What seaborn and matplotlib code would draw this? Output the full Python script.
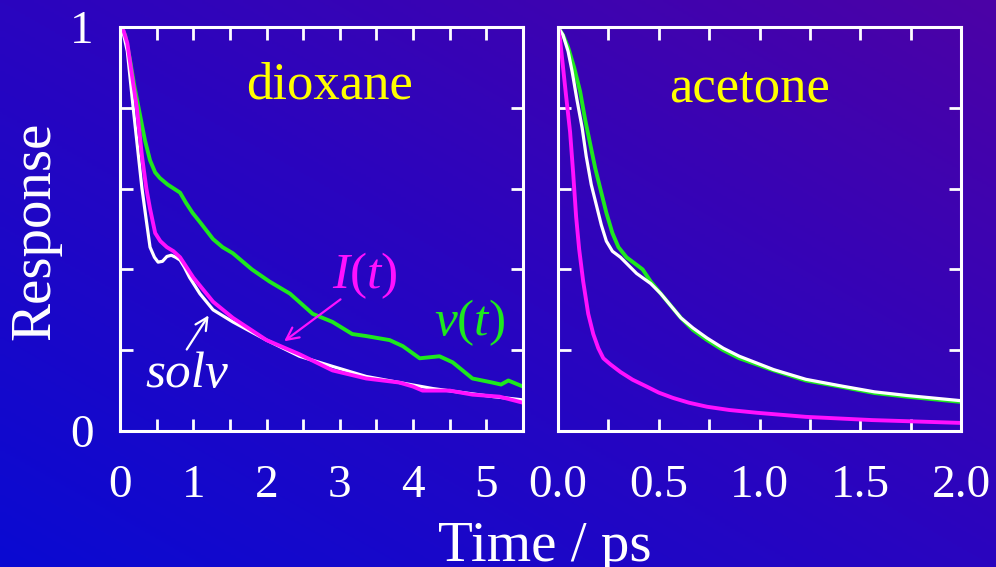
"""
Solvation response in dioxane and acetone: solvation correlation function,
intensity I(t) and frequency v(t) responses, two panels on a blue backdrop.
"""

import numpy as np
import matplotlib.pyplot as plt
import seaborn as sns
from matplotlib.colors import LinearSegmentedColormap

sns.set_style("ticks")
plt.rcParams['font.family'] = ['Liberation Serif', 'DejaVu Serif']
plt.rcParams['mathtext.fontset'] = 'custom'
plt.rcParams['mathtext.rm'] = 'Liberation Serif'
plt.rcParams['mathtext.it'] = 'Liberation Serif:italic'

# ============================================================================
# DATA
# ============================================================================

# dioxane, v(t)
diox_v_t = [0.0, 0.07, 0.14, 0.2, 0.27, 0.34, 0.41, 0.48, 0.545, 0.65, 0.82, 0.9,
            0.99, 1.1, 1.27, 1.4, 1.54, 1.8, 2.04, 2.32, 2.63, 2.9, 3.17, 3.36,
            3.68, 3.86, 4.09, 4.36, 4.54, 4.81, 5.08, 5.2, 5.3, 5.5]
diox_v = [1.0, 0.98, 0.915, 0.85, 0.785, 0.72, 0.67, 0.64, 0.626, 0.61, 0.59, 0.565,
          0.54, 0.515, 0.475, 0.455, 0.44, 0.40, 0.37, 0.34, 0.29, 0.27, 0.24, 0.235,
          0.225, 0.21, 0.18, 0.185, 0.17, 0.13, 0.12, 0.115, 0.125, 0.11]

# dioxane, solvation function
diox_s_t = [0.0, 0.05, 0.1, 0.18, 0.24, 0.3, 0.36, 0.41, 0.47, 0.52, 0.58, 0.64,
            0.7, 0.76, 0.82, 0.88, 0.95, 1.02, 1.09, 1.18, 1.27, 1.54, 2.0, 2.45,
            2.9, 3.36, 3.81, 4.27, 4.72, 5.1, 5.5]
diox_s = [1.0, 0.98, 0.94, 0.80, 0.70, 0.60, 0.52, 0.455, 0.43, 0.418, 0.42, 0.432,
          0.435, 0.43, 0.423, 0.405, 0.38, 0.36, 0.34, 0.32, 0.30, 0.27, 0.225, 0.185,
          0.16, 0.135, 0.12, 0.105, 0.094, 0.085, 0.077]

# dioxane, I(t)
diox_i_t = [0.0, 0.05, 0.1, 0.18, 0.23, 0.3, 0.36, 0.41, 0.48, 0.55, 0.64, 0.73,
            0.82, 0.91, 1.0, 1.09, 1.18, 1.27, 1.54, 2.0, 2.45, 2.9, 3.36, 3.81,
            4.0, 4.13, 4.5, 4.81, 5.18, 5.5]
diox_i = [1.0, 0.99, 0.96, 0.86, 0.80, 0.68, 0.60, 0.55, 0.49, 0.47, 0.455, 0.445,
          0.43, 0.405, 0.38, 0.36, 0.34, 0.32, 0.28, 0.225, 0.19, 0.15, 0.13, 0.12,
          0.11, 0.10, 0.10, 0.09, 0.085, 0.07]

# acetone, v(t)
acet_v_t = [0.0, 0.025, 0.05, 0.08, 0.11, 0.135, 0.16, 0.185, 0.21, 0.24, 0.27,
            0.3, 0.34, 0.38, 0.42, 0.46, 0.51, 0.56, 0.61, 0.67, 0.74, 0.82, 0.9,
            1.07, 1.23, 1.4, 1.57, 1.73, 2.0]
acet_v = [1.0, 0.98, 0.95, 0.90, 0.84, 0.77, 0.71, 0.65, 0.60, 0.54, 0.49,
          0.455, 0.43, 0.415, 0.40, 0.37, 0.34, 0.31, 0.28, 0.25, 0.225, 0.20, 0.18,
          0.15, 0.125, 0.11, 0.094, 0.085, 0.072]

# acetone, solvation function
acet_s_t = [0.0, 0.025, 0.05, 0.07, 0.094, 0.12, 0.14, 0.165, 0.19, 0.215, 0.24,
            0.27, 0.31, 0.35, 0.39, 0.46, 0.51, 0.56, 0.61, 0.67, 0.74, 0.82, 0.9,
            1.07, 1.23, 1.4, 1.57, 1.73, 2.0]
acet_s = [1.0, 0.98, 0.94, 0.89, 0.82, 0.75, 0.68, 0.61, 0.56, 0.51, 0.47,
          0.445, 0.43, 0.41, 0.39, 0.365, 0.34, 0.31, 0.28, 0.255, 0.23, 0.205, 0.185,
          0.152, 0.128, 0.112, 0.097, 0.088, 0.075]

# acetone, I(t)
acet_i_t = [0.0, 0.01, 0.025, 0.04, 0.06, 0.075, 0.09, 0.105, 0.125, 0.15, 0.175,
            0.2, 0.225, 0.26, 0.31, 0.37, 0.44, 0.5, 0.57, 0.65, 0.74, 0.85, 0.99,
            1.23, 1.56, 2.0]
acet_i = [1.0, 0.97, 0.90, 0.83, 0.74, 0.64, 0.53, 0.45, 0.37, 0.29, 0.24,
          0.205, 0.18, 0.165, 0.146, 0.127, 0.11, 0.095, 0.082, 0.07, 0.06, 0.052,
          0.045, 0.035, 0.027, 0.02]

# tick labels
diox_xticks = [0, 1, 2, 3, 4, 5]
diox_xlabels = ['0', '1', '2', '3', '4', '5']
acet_xticks = [0.0, 0.5, 1.0, 1.5, 2.0]
acet_xlabels = ['0.0', '0.5', '1.0', '1.5', '2.0']
yticks = [0, 0.2, 0.4, 0.6, 0.8, 1.0]
ylabels = ['0', '', '', '', '', '1']

# colours
green = '#1ee81e'
magenta = '#ff10ff'
white = '#ffffff'
yellow = '#ffff00'

# ============================================================================
# FIGURE
# ============================================================================

fig = plt.figure(figsize=(9.96, 5.67), dpi=100)

# diagonal gradient backdrop: bright blue bottom-left to purple top-right
bg = fig.add_axes([0, 0, 1, 1], zorder=-10)
gx, gy = np.meshgrid(np.linspace(0, 1, 200), np.linspace(0, 1, 200))
grad = (gx + gy) / 2
bg_cmap = LinearSegmentedColormap.from_list('bg', ['#0a0ad2', '#2a05bf', '#4c02a6'])
bg.imshow(grad, cmap=bg_cmap, origin='lower', aspect='auto', extent=[0, 1, 0, 1])
bg.axis('off')

W, H = 996, 567
ax1 = fig.add_axes([120 / W, 1 - 431 / H, 403 / W, 404 / H])
ax2 = fig.add_axes([558 / W, 1 - 431 / H, 403 / W, 404 / H])

for ax, curves in [(ax1, [(diox_v_t, diox_v, green, 2.8),
                          (diox_s_t, diox_s, white, 2.3),
                          (diox_i_t, diox_i, magenta, 2.8)]),
                   (ax2, [(acet_v_t, acet_v, green, 2.8),
                          (acet_s_t, acet_s, white, 2.3),
                          (acet_i_t, acet_i, magenta, 2.8)])]:
    for tt, yy, col, lw in curves:
        sns.lineplot(x=tt, y=yy, ax=ax, color=col, linewidth=lw, legend=False)
    ax.set_facecolor('none')
    for sp in ax.spines.values():
        sp.set_color('white')
        sp.set_linewidth(2.2)
    ax.set_ylim(0, 1)
    ax.set_xlabel('')
    ax.set_ylabel('')
    ax.tick_params(which='both', direction='in', top=True, right=True,
                   length=9, width=2, color='white', labelcolor='white')
    ax.tick_params(axis='x', labelsize=34, pad=24)
    ax.tick_params(axis='y', labelsize=34, pad=19)

ax1.set_xlim(0, 5.5)
ax1.set_xticks(diox_xticks, diox_xlabels)
ax1.set_xticks(np.arange(0.5, 5.5, 1.0), minor=True)
ax1.set_yticks(yticks, ylabels)

ax2.set_xlim(0, 2.0)
ax2.set_xticks(acet_xticks, acet_xlabels)
ax2.set_xticks(np.arange(0.25, 2.0, 0.5), minor=True)
ax2.set_yticks(yticks, [''] * len(yticks))

# panel titles
ax1.text(0.52, 0.856, 'dioxane', transform=ax1.transAxes, ha='center',
         va='center', color=yellow, fontsize=38)
ax2.text(0.476, 0.847, 'acetone', transform=ax2.transAxes, ha='center',
         va='center', color=yellow, fontsize=38)

# curve labels and arrows
ax1.text(3.34, 0.384, '$I(t)$', color=magenta, fontsize=37, ha='center', va='center')
ax1.annotate('', xy=(2.21, 0.218), xytext=(3.04, 0.33),
             arrowprops=dict(arrowstyle='->', color=magenta, lw=1.6, mutation_scale=22))
ax1.text(4.77, 0.267, '$v(t)$', color=green, fontsize=37, ha='center', va='center')
ax1.text(0.91, 0.139, 'solv', color=white, fontsize=37, style='italic',
         ha='center', va='center')
ax1.annotate('', xy=(1.23, 0.292), xytext=(0.89, 0.196),
             arrowprops=dict(arrowstyle='->', color=white, lw=1.6, mutation_scale=22))

# axis labels
fig.text(35 / W, 1 - 231 / H, 'Response', rotation=90, ha='center', va='center',
         color='white', fontsize=41)
fig.text(545 / W, 1 - 561 / H, 'Time / ps', ha='center', va='baseline',
         color='white', fontsize=41)

plt.savefig('out.png', dpi=100)
plt.close()
